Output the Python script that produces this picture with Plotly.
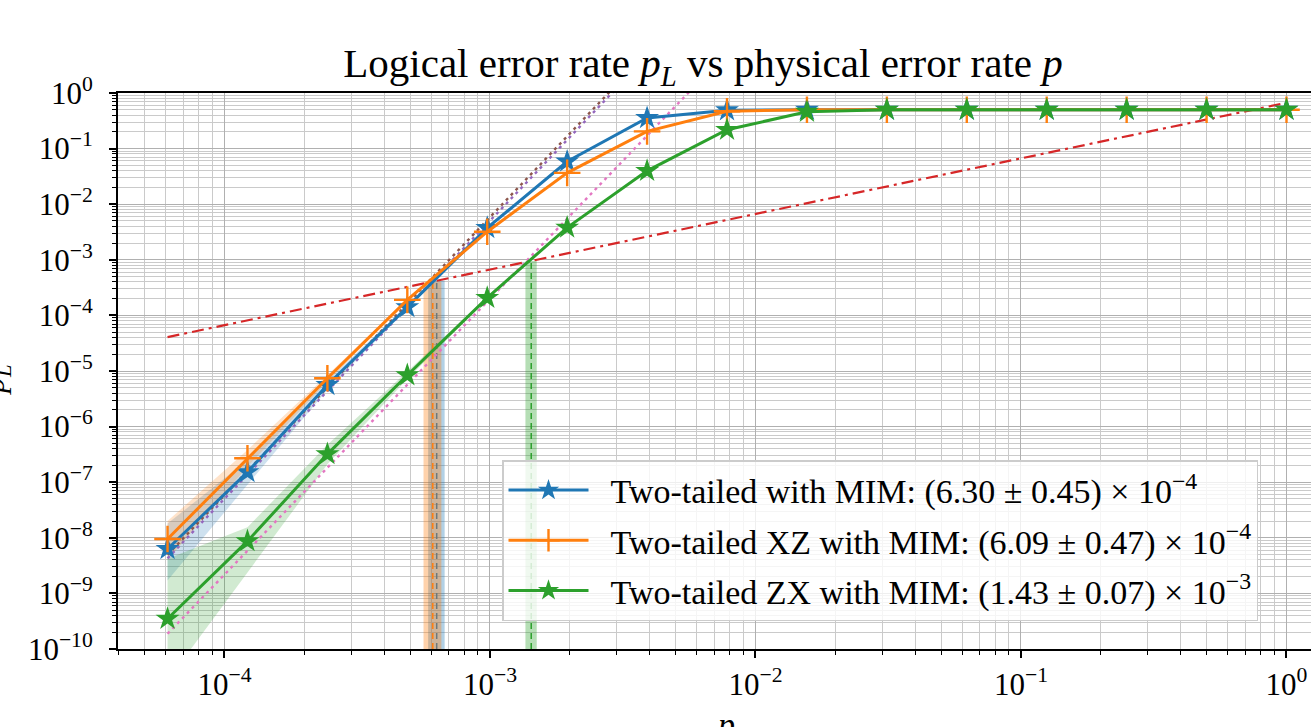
import plotly.graph_objects as go

# ---------------- data ----------------
p = [6.1035e-5, 1.2207e-4, 2.4414e-4, 4.8828e-4, 9.7656e-4, 1.9531e-3, 3.9063e-3,
     7.8125e-3, 1.5625e-2, 3.125e-2, 6.25e-2, 0.125, 0.25, 0.5, 1.0]

blue = [6.3e-9, 1.52e-7, 5.6e-6, 1.41e-4, 3.74e-3, 5.86e-2, 0.355, 0.49, 0.5, 0.5, 0.5, 0.5, 0.5, 0.5, 0.5]
blue_lo = [1.7e-9, 9.0e-8, 4.6e-6, 1.30e-4, 3.60e-3, 5.7e-2, 0.35, 0.485, 0.497, 0.497, 0.497, 0.497, 0.497, 0.497, 0.497]
blue_hi = [1.8e-8, 2.5e-7, 6.8e-6, 1.52e-4, 3.90e-3, 6.0e-2, 0.36, 0.495, 0.503, 0.503, 0.503, 0.503, 0.503, 0.503, 0.503]

orange = [9.5e-9, 2.7e-7, 7.4e-6, 1.9e-4, 3.2e-3, 3.66e-2, 0.204, 0.47, 0.5, 0.5, 0.5, 0.5, 0.5, 0.5, 0.5]
orange_lo = [4.0e-9, 1.9e-7, 6.5e-6, 1.8e-4, 3.08e-3, 3.55e-2, 0.20, 0.465, 0.497, 0.497, 0.497, 0.497, 0.497, 0.497, 0.497]
orange_hi = [2.0e-8, 3.8e-7, 8.5e-6, 2.0e-4, 3.32e-3, 3.77e-2, 0.208, 0.475, 0.503, 0.503, 0.503, 0.503, 0.503, 0.503, 0.503]

green = [3.5e-10, 8.7e-9, 3.2e-7, 8.4e-6, 2.07e-4, 3.8e-3, 3.98e-2, 0.218, 0.46, 0.5, 0.5, 0.5, 0.5, 0.5, 0.5]
green_lo = [2.7e-11, 2.3e-9, 2.1e-7, 7.2e-6, 1.95e-4, 3.65e-3, 3.9e-2, 0.214, 0.455, 0.497, 0.497, 0.497, 0.497, 0.497, 0.497]
green_hi = [4.2e-9, 1.55e-8, 4.7e-7, 9.8e-6, 2.2e-4, 3.95e-3, 4.06e-2, 0.222, 0.465, 0.503, 0.503, 0.503, 0.503, 0.503, 0.503]

names = ["\u2002Two-tailed with MIM: (6.30 ± 0.45) × 10<sup>−4</sup>",
         "\u2002Two-tailed XZ with MIM: (6.09 ± 0.47) × 10<sup>−4</sup>",
         "\u2002Two-tailed ZX with MIM: (1.43 ± 0.07) × 10<sup>−3</sup>"]
thresholds = [6.30e-4, 6.09e-4, 1.43e-3]
threshold_err = [0.45e-4, 0.47e-4, 0.07e-3]

# power-law fits p_L = A * (p / p_th)^k
fit_A = [5.0e-4, 4.9e-4, 1.17e-3]
fit_k = [5.0, 5.0, 4.96]
fit_colors = ["#9467bd", "#8c564b", "#e377c2"]

ref_slope = 2.0 / 3.0  # reference line p_L = (2/3) p

x_ticks = [1e-4, 1e-3, 1e-2, 1e-1, 1e0]
x_ticktext = ["10<sup>−4</sup>", "10<sup>−3</sup>", "10<sup>−2</sup>", "10<sup>−1</sup>", "10<sup>0</sup>"]
y_ticks = [10.0 ** (-k) for k in range(0, 11)]
y_ticktext = ["10<sup>0</sup>"] + ["10<sup>−%d</sup>" % k for k in range(1, 11)]

colors = ["#1f77b4", "#ff7f0e", "#2ca02c"]
fills = ["rgba(31,119,180,0.22)", "rgba(255,127,14,0.22)", "rgba(44,160,44,0.22)"]
series = [blue, orange, green]
lows = [blue_lo, orange_lo, green_lo]
highs = [blue_hi, orange_hi, green_hi]
symbols = ["star", "cross-thin", "star"]

Y_MIN, Y_MAX = 1e-10, 1.0
FONT = "Liberation Serif"

fig = go.Figure()

# confidence bands
for lo, hi, fc in zip(lows, highs, fills):
    fig.add_trace(go.Scatter(x=p + p[::-1], y=hi + lo[::-1], fill="toself", fillcolor=fc,
                             line=dict(width=0), mode="lines", showlegend=False, hoverinfo="skip"))

# threshold bands and dashed lines
for th, er, c, fc in zip(thresholds, threshold_err, colors, fills):
    top = ref_slope * th
    fig.add_trace(go.Scatter(x=[th - er, th + er, th + er, th - er, th - er],
                             y=[Y_MIN, Y_MIN, top, top, Y_MIN], fill="toself",
                             fillcolor=fc.replace("0.22", "0.35"), line=dict(width=0),
                             mode="lines", showlegend=False, hoverinfo="skip"))
    fig.add_trace(go.Scatter(x=[th, th], y=[Y_MIN, top], mode="lines",
                             line=dict(color=c, width=1.5, dash="6px,4px"), showlegend=False))

# reference line
fig.add_trace(go.Scatter(x=p, y=[ref_slope * v for v in p], mode="lines",
                         line=dict(color="#d62728", width=2.2, dash="12px,5px,3px,5px"),
                         showlegend=False))

# fits
for th, A, k, fc in zip(thresholds, fit_A, fit_k, fit_colors):
    fig.add_trace(go.Scatter(x=p, y=[A * (v / th) ** k for v in p], mode="lines",
                             line=dict(color=fc, width=2.4, dash="3px,4px"), showlegend=False))

# main series
for i, (ys, c, sym, nm) in enumerate(zip(series, colors, symbols, names)):
    if sym == "star":
        marker = dict(symbol="star", size=18, color=c, line=dict(width=0))
    else:
        marker = dict(symbol="cross-thin", size=19, color=c, line=dict(width=2.4, color=c))
    fig.add_trace(go.Scatter(x=p, y=ys, mode="lines+markers", name=nm,
                             line=dict(color=c, width=3), marker=marker,
                             legendgroup="g%d" % i))

grid_major = "#b0b0b0"
grid_minor = "#cacaca"

fig.update_layout(
    width=1311, height=727,
    margin=dict(l=118, r=0, t=93, b=78),
    paper_bgcolor="white", plot_bgcolor="white",
    font=dict(family=FONT, size=28, color="black"),
    title=dict(text="Logical error rate <i>p<sub>L</sub></i> vs physical error rate <i>p</i>",
               x=(703 - 118) / 1193, xref="paper", xanchor="center", y=1 - 63 / 727, yanchor="middle",
               font=dict(family=FONT, size=41, color="black")),
    legend=dict(x=(502 - 118) / 1193, y=(649 - 460) / 556, xanchor="left", yanchor="top",
                bgcolor="rgba(255,255,255,0.8)", bordercolor="#cccccc", borderwidth=1.5,
                font=dict(family=FONT, size=34, color="black"), itemwidth=80,
                tracegroupgap=3),
    showlegend=True,
)

fig.update_xaxes(type="log", range=[-4.401, 0.0923],
                 tickmode="array", tickvals=x_ticks, ticktext=x_ticktext,
                 ticks="outside", ticklen=7, tickwidth=1.5, tickcolor="black",
                 showline=True, linecolor="black", linewidth=2, mirror=True,
                 showgrid=True, gridcolor=grid_major, gridwidth=1, zeroline=False,
                 minor=dict(dtick="D1", ticks="outside", ticklen=4, tickwidth=1, tickcolor="black",
                            showgrid=True, gridcolor=grid_minor, gridwidth=1),
                 tickfont=dict(family=FONT, size=31))
fig.update_yaxes(type="log", range=[-10, 0],
                 tickmode="array", tickvals=y_ticks, ticktext=y_ticktext,
                 ticks="outside", ticklen=7, tickwidth=1.5, tickcolor="black",
                 showline=True, linecolor="black", linewidth=2, mirror=False,
                 showgrid=True, gridcolor=grid_major, gridwidth=1, zeroline=False,
                 minor=dict(dtick="D1", ticks="outside", ticklen=4, tickwidth=1, tickcolor="black",
                            showgrid=True, gridcolor=grid_minor, gridwidth=1),
                 tickfont=dict(family=FONT, size=31), ticklabelstandoff=10)

# axis titles (partly outside the visible page, as in the reference)
fig.add_annotation(text="<i>p<sub>L</sub></i>", xref="paper", yref="paper",
                   x=-123 / 1193, y=(649 - 380) / 556, xanchor="center", yanchor="middle",
                   textangle=-90, showarrow=False, font=dict(family=FONT, size=32))
fig.add_annotation(text="<i>p</i>", xref="paper", yref="paper",
                   x=(725 - 118) / 1193, y=-(724 - 649) / 556, xanchor="center", yanchor="middle",
                   showarrow=False, font=dict(family=FONT, size=34))

fig.write_html("out.html")
